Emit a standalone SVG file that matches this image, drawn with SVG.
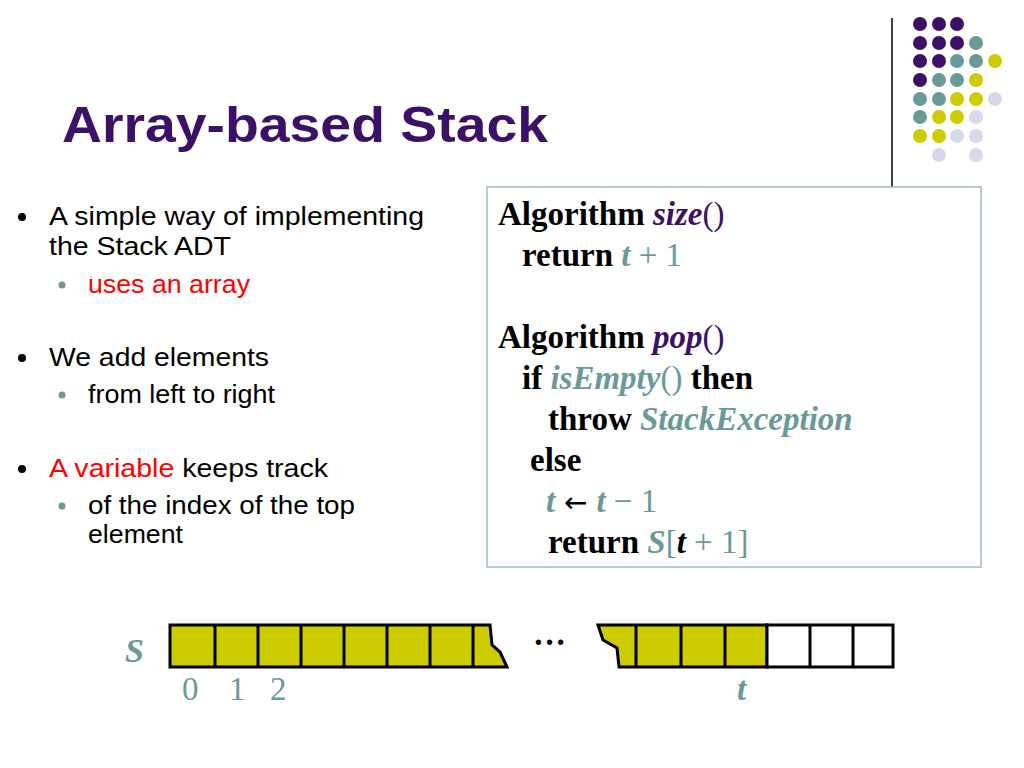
<svg xmlns="http://www.w3.org/2000/svg" width="1024" height="768" viewBox="0 0 1024 768">
<style>
.t{font-family:"Liberation Sans",Arial,sans-serif;font-size:25px;fill:#000}
.c{font-family:"Liberation Serif","Times New Roman",serif;font-size:33px;fill:#000}
.b{font-weight:bold}
.i{font-style:italic;font-weight:bold}
.tl{fill:#6a9a98}
.pu{fill:#3d1068}
.cell{fill:#cccc00;stroke:#000;stroke-width:3}
.e{fill:#fff;stroke:#000;stroke-width:3}
</style>
<rect width="1024" height="768" fill="#fff"/>
<g id="dots">
<g fill="#3d1068"><circle cx="920" cy="24" r="7"/><circle cx="939" cy="24" r="7"/><circle cx="957" cy="24" r="7"/>
<circle cx="920" cy="43" r="7"/><circle cx="939" cy="43" r="7"/><circle cx="957" cy="43" r="7"/>
<circle cx="920" cy="61" r="7"/><circle cx="939" cy="61" r="7"/><circle cx="920" cy="80" r="7"/></g>
<g fill="#6a9a98"><circle cx="976" cy="43" r="7"/><circle cx="957" cy="61" r="7"/><circle cx="976" cy="61" r="7"/>
<circle cx="939" cy="80" r="7"/><circle cx="957" cy="80" r="7"/><circle cx="920" cy="99" r="7"/><circle cx="939" cy="99" r="7"/><circle cx="920" cy="117" r="7"/></g>
<g fill="#cccc00"><circle cx="995" cy="61" r="7"/><circle cx="976" cy="80" r="7"/><circle cx="957" cy="99" r="7"/><circle cx="976" cy="99" r="7"/>
<circle cx="939" cy="117" r="7"/><circle cx="957" cy="117" r="7"/><circle cx="920" cy="136" r="7"/><circle cx="939" cy="136" r="7"/></g>
<g fill="#d8d8ea"><circle cx="995" cy="99" r="7"/><circle cx="976" cy="117" r="7"/><circle cx="957" cy="136" r="7"/><circle cx="976" cy="136" r="7"/>
<circle cx="939" cy="155" r="7"/><circle cx="976" cy="155" r="7"/></g>
<line x1="892" y1="18" x2="892" y2="187" stroke="#000" stroke-width="1.5"/>
</g>
<text x="62" y="142" font-family="Liberation Sans,Arial,sans-serif" font-size="50" font-weight="bold" fill="#3d1068" textLength="486" lengthAdjust="spacingAndGlyphs">Array-based Stack</text>
<g id="bullets">
<circle cx="22" cy="217" r="4"/><circle cx="22" cy="358" r="4"/><circle cx="22" cy="469" r="4"/>
<circle cx="62" cy="285" r="3.5" fill="#6a9a98"/><circle cx="62" cy="395" r="3.5" fill="#6a9a98"/><circle cx="62" cy="506" r="3.5" fill="#6a9a98"/>
<text class="t" x="49" y="225" textLength="375" lengthAdjust="spacingAndGlyphs">A simple way of implementing</text>
<text class="t" x="49" y="255" textLength="182" lengthAdjust="spacingAndGlyphs">the Stack ADT</text>
<text class="t" x="88" y="293" style="fill:#ff0000" textLength="162" lengthAdjust="spacingAndGlyphs">uses an array</text>
<text class="t" x="49" y="366" textLength="220" lengthAdjust="spacingAndGlyphs">We add elements</text>
<text class="t" x="88" y="403" textLength="187" lengthAdjust="spacingAndGlyphs">from left to right</text>
<text class="t" x="49" y="477" textLength="279" lengthAdjust="spacingAndGlyphs"><tspan style="fill:#ff0000">A variable</tspan> keeps track</text>
<text class="t" x="88" y="514" textLength="267" lengthAdjust="spacingAndGlyphs">of the  index of the top</text>
<text class="t" x="88" y="543" textLength="95" lengthAdjust="spacingAndGlyphs">element</text>
</g>
<g id="code">
<rect x="487" y="187" width="494" height="380" fill="#fff" stroke="#9fbcb9" stroke-width="1.5"/>
<text class="c" x="498" y="225"><tspan class="b">Algorithm </tspan><tspan class="i pu">size</tspan><tspan class="pu">()</tspan></text>
<text class="c" x="522" y="266"><tspan class="b">return </tspan><tspan class="i tl">t</tspan><tspan class="tl"> + 1</tspan></text>
<text class="c" x="498" y="348"><tspan class="b">Algorithm </tspan><tspan class="i pu">pop</tspan><tspan class="pu">()</tspan></text>
<text class="c" x="522" y="389"><tspan class="b">if </tspan><tspan class="i tl">isEmpty</tspan><tspan class="tl">() </tspan><tspan class="b">then</tspan></text>
<text class="c" x="548" y="430"><tspan class="b">throw </tspan><tspan class="i tl">StackException</tspan></text>
<text class="c" x="530" y="471"><tspan class="b">else</tspan></text>
<text class="c" x="546" y="512"><tspan class="i tl">t</tspan><tspan font-family="DejaVu Sans,sans-serif" font-size="28"> ← </tspan><tspan class="i tl">t</tspan><tspan class="tl"> − 1</tspan></text>
<text class="c" x="548" y="553"><tspan class="b">return </tspan><tspan class="i tl">S</tspan><tspan class="tl">[</tspan><tspan class="i">t</tspan><tspan class="tl"> + 1]</tspan></text>
</g>
<g id="array">
<path class="cell" d="M170 625 H490 L492 645 L500 652 L507 667 H170 Z"/>
<path class="cell" d="M598 625 H767 V667 H619 L617 648 L603 640 Z"/>
<g stroke="#000" stroke-width="3">
<line x1="215" y1="625" x2="215" y2="667"/><line x1="258" y1="625" x2="258" y2="667"/><line x1="301" y1="625" x2="301" y2="667"/>
<line x1="344" y1="625" x2="344" y2="667"/><line x1="387" y1="625" x2="387" y2="667"/><line x1="430" y1="625" x2="430" y2="667"/><line x1="473" y1="625" x2="473" y2="667"/>
<line x1="636" y1="625" x2="636" y2="667"/><line x1="681" y1="625" x2="681" y2="667"/><line x1="725" y1="625" x2="725" y2="667"/>
</g>
<rect class="e" x="767" y="625" width="126" height="42"/>
<line x1="810" y1="625" x2="810" y2="667" stroke="#000" stroke-width="3"/><line x1="853" y1="625" x2="853" y2="667" stroke="#000" stroke-width="3"/>
<text class="c" x="533" y="645" font-weight="bold">…</text>
<text class="c i tl" x="125" y="662" style="font-size:34px">S</text>
<text class="c tl" x="182" y="700">0</text><text class="c tl" x="229" y="700">1</text><text class="c tl" x="270" y="700">2</text>
<text class="c i tl" x="737" y="700">t</text>
</g>
</svg>
